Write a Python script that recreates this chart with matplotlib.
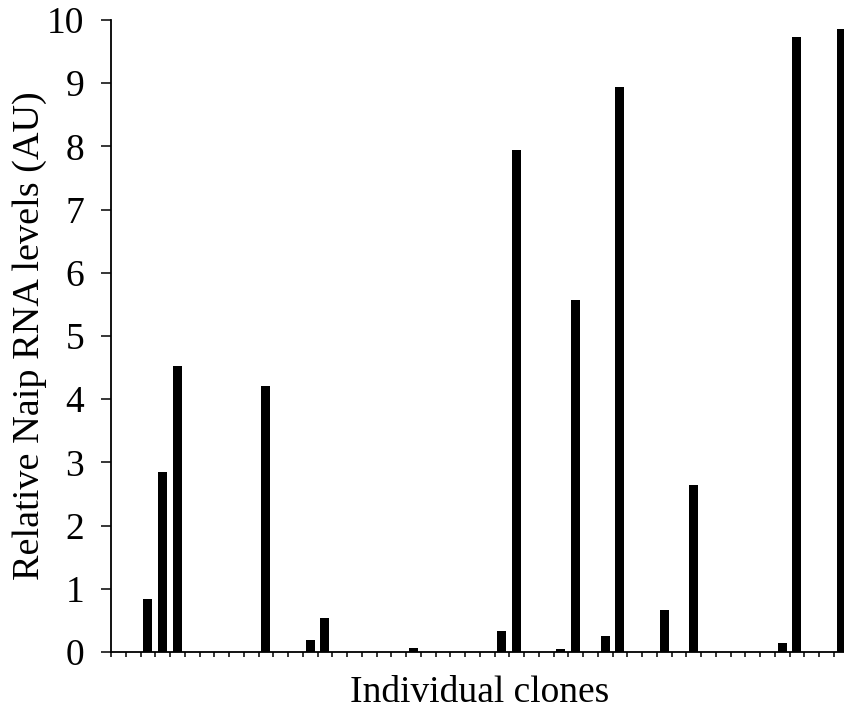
import numpy as np
import matplotlib.pyplot as plt

plt.rcParams['font.family'] = ['Liberation Serif', 'DejaVu Serif']

# 50 clones, most with no detectable signal
n_clones = 50
clone_idx = [2, 3, 4, 10, 13, 14, 20, 26, 27, 30, 31, 33, 34, 37, 39, 45, 46, 49]
clone_val = [0.84, 2.85, 4.53, 4.21, 0.19, 0.54, 0.06, 0.33, 7.94, 0.05,
             5.57, 0.26, 8.94, 0.66, 2.65, 0.14, 9.73, 9.86]

levels = np.zeros(n_clones)
levels[clone_idx] = clone_val

fig = plt.figure(figsize=(8.44, 7.15), dpi=100)
ax = fig.add_axes([111 / 844, 63 / 715, 737.5 / 844, 632 / 715])

x = np.arange(n_clones)
ax.bar(x, levels, width=0.62, color='black', edgecolor='none')

ax.set_xlim(-0.5, n_clones - 0.5)
ax.set_ylim(0, 10)
ax.set_yticks(range(0, 11))
ax.set_xticks(np.arange(-0.5, n_clones, 1.0))
ax.set_xticklabels([])

ax.spines['top'].set_visible(False)
ax.spines['right'].set_visible(False)
ax.spines['left'].set_linewidth(1.3)
ax.spines['bottom'].set_linewidth(1.3)
ax.tick_params(axis='y', length=7.2, width=1.1, labelsize=27, pad=12)
ax.tick_params(axis='x', length=3.5, width=1.1)

ax.set_ylabel('Relative Naip RNA levels (AU)', fontsize=27.5, labelpad=0)
ax.set_xlabel('Individual clones', fontsize=27, labelpad=10)

plt.savefig('out.png', dpi=100)
plt.close()
